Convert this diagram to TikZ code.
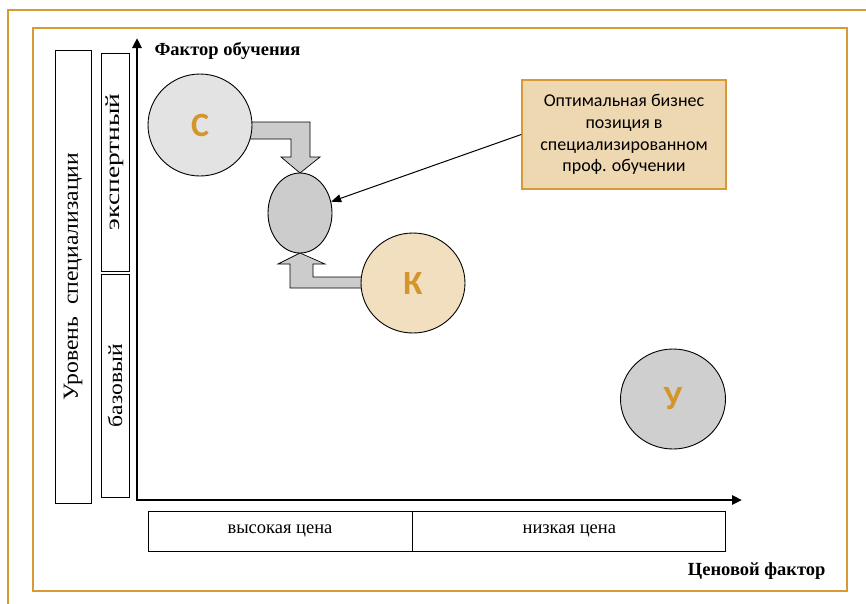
\documentclass[tikz,border=0pt]{standalone}
\usepackage{fontspec}
\usepackage{graphicx}
\setmainfont{Liberation Serif}
\newfontfamily\calibri{Carlito}
\usetikzlibrary{arrows.meta,shapes.geometric}
\definecolor{frameor}{HTML}{D99A35}
\definecolor{lettor}{HTML}{D4952C}
\definecolor{notefill}{HTML}{EED8B2}
\definecolor{kfill}{HTML}{F1DFC0}

\begin{document}
\begin{tikzpicture}[x=1pt,y=-1pt,
  lbl/.style={draw, line width=0.8pt, inner sep=0pt},
  firm/.style={ellipse, draw, line width=0.9pt, inner sep=0pt, text=lettor,
    font=\calibri\bfseries\fontsize{34}{34}\selectfont},
  blk/.style={fill=black!20, draw, line width=0.7pt, line join=miter}]
\useasboundingbox (0,0) rectangle (866,603);
\clip (0,0) rectangle (866,603);
\fill[white] (0,0) rectangle (866,603);
\draw[frameor, line width=2pt] (8,10) rectangle (890,630);
\draw[frameor, line width=2.5pt] (33,28) rectangle (847,591);
% left scale
\node[lbl, rotate=90, minimum width=453pt, minimum height=36pt,
  font=\fontsize{21.5}{21.5}\selectfont] (lvl) at (73,276.5) {\scalebox{1.1}[1]{Уровень\ \ специализации}};
\node[lbl, rotate=90, minimum width=218pt, minimum height=28pt,
  font=\fontsize{20}{20}\selectfont] (expert) at (115,162) {\scalebox{1.37}[1]{экспертный}};
\node[lbl, rotate=90, minimum width=223pt, minimum height=28pt,
  font=\fontsize{20}{20}\selectfont] (basic) at (115,385.5) {\scalebox{1.18}[1]{базовый}};
% axes
\coordinate (o) at (137,500);
\coordinate (ytop) at (137,38);
\coordinate (xend) at (742,500);
\draw[line width=2.6pt, {Triangle[length=10pt,width=9pt]}-{Triangle[length=10pt,width=9pt]}]
  (ytop) -- (o) -- (xend);
\node[anchor=west, font=\bfseries\fontsize{18.5}{18.5}\selectfont] (fy) at (151,51) {Фактор обучения};
\node[lbl, minimum width=264pt, minimum height=40pt, font=\fontsize{18.5}{18.5}\selectfont]
  (high) at (280,531) {высокая цена};
\node[lbl, anchor=west, minimum width=313pt, minimum height=40pt, font=\fontsize{18.5}{18.5}\selectfont]
  (low) at (high.east) {низкая цена};
\node[anchor=east, font=\bfseries\fontsize{18.5}{18.5}\selectfont] (fx) at (829,571) {Ценовой фактор};
% block arrows
\draw[blk] (248,122) -- (310,122) -- (310,157) -- (320,157) -- (300,173)
  -- (281,157) -- (291,157) -- (291,139) -- (248,139) -- cycle;
\draw[blk] (365,277) -- (313,277) -- (313,264) -- (325,264) -- (300,253)
  -- (278,264) -- (290,264) -- (290,288) -- (365,288) -- cycle;
% positions
\node[firm, fill=black!11, minimum width=104pt, minimum height=102pt] (c) at (200,125) {С};
\node[firm, fill=black!20, minimum width=64pt, minimum height=80pt] (pos) at (300,213) {};
\node[firm, fill=kfill, minimum width=104pt, minimum height=100pt] (k) at (413,283) {К};
\node[firm, fill=black!19, minimum width=105pt, minimum height=100pt] (u) at (673,399) {У};
\node[draw=frameor, fill=notefill, line width=1.5pt, minimum width=204pt, minimum height=109pt,
  align=center, font=\calibri\fontsize{18}{21.7}\selectfont]
  (note) at (624,134.5) {Оптимальная бизнес\\позиция в\\специализированном\\проф. обучении};
\draw[line width=1pt, -{Triangle[length=10pt,width=8pt]}] (note.west) -- (pos.20);
\end{tikzpicture}
\end{document}
